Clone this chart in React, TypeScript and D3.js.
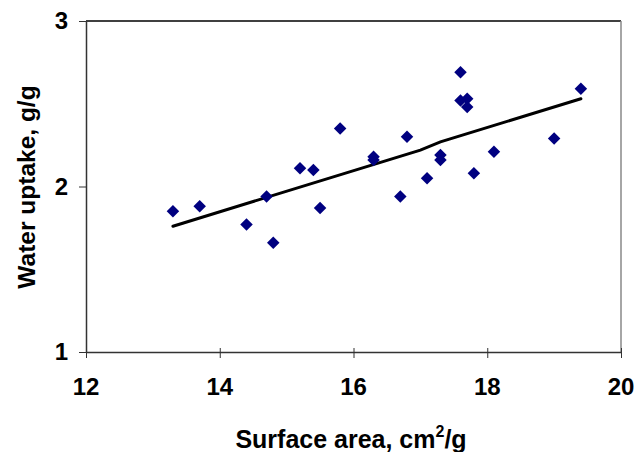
import { useEffect, useRef } from "react"
import * as d3 from "d3"

// scatter points
const surfaceArea = [13.3, 13.7, 14.4, 14.7, 14.8, 15.2, 15.4, 15.5, 15.8, 16.3, 16.3, 16.7, 16.8, 17.1, 17.3, 17.3, 17.6, 17.6, 17.7, 17.7, 17.8, 18.1, 19.0, 19.4]
const waterUptake = [1.85, 1.88, 1.77, 1.94, 1.66, 2.11, 2.10, 1.87, 2.35, 2.18, 2.16, 1.94, 2.30, 2.05, 2.19, 2.16, 2.69, 2.52, 2.53, 2.48, 2.08, 2.21, 2.29, 2.59]

// fitted line
const trendX = [13.3, 17.0, 17.3, 19.4]
const trendY = [1.76, 2.22, 2.27, 2.53]

const xTicks = [12, 14, 16, 18, 20]
const yTicks = [1, 2, 3]

const App = () => {
  const svgRef = useRef<SVGSVGElement>(null)

  useEffect(() => {
    const svg = d3.select(svgRef.current)
    svg.selectAll("*").remove()

    const left = 86, right = 621, top = 21, bottom = 352
    const font = "Liberation Sans, Arial, sans-serif"

    const x = d3.scaleLinear().domain([12, 20]).range([left, right])
    const y = d3.scaleLinear().domain([1, 3]).range([bottom, top])

    // frame top and right
    svg.append("line")
      .attr("x1", left).attr("x2", right).attr("y1", top).attr("y2", top)
      .attr("stroke", "#000").attr("stroke-width", 1.5)
    svg.append("line")
      .attr("x1", right).attr("x2", right).attr("y1", top).attr("y2", bottom)
      .attr("stroke", "#888").attr("stroke-width", 1.5)

    // x axis (labels drawn separately)
    const gx = svg.append("g")
      .attr("transform", `translate(0, ${bottom})`)
      .call(d3.axisBottom(x).tickValues(xTicks).tickSize(6).tickSizeOuter(0).tickFormat(() => ""))
    gx.select(".domain").attr("stroke", "#333").attr("stroke-width", 1.5)
    gx.selectAll(".tick line").attr("stroke", "#333").attr("y1", -4)

    svg.append("g")
      .attr("font-family", font).attr("font-size", 24).attr("font-weight", "bold")
      .attr("text-anchor", "middle")
      .selectAll("text")
      .data(xTicks)
      .join("text")
      .attr("x", d => x(d))
      .attr("y", bottom + 43)
      .text(d => d)

    // y axis
    const gy = svg.append("g")
      .attr("transform", `translate(${left}, 0)`)
      .call(d3.axisLeft(y).tickValues(yTicks).tickSize(7).tickSizeOuter(0).tickFormat(() => ""))
    gy.select(".domain").attr("stroke", "#333").attr("stroke-width", 1.5)
    gy.selectAll(".tick line").attr("stroke", "#333")

    svg.append("g")
      .attr("font-family", font).attr("font-size", 24).attr("font-weight", "bold")
      .attr("text-anchor", "end")
      .selectAll("text")
      .data(yTicks)
      .join("text")
      .attr("x", left - 18)
      .attr("y", d => y(d) + 8)
      .text(d => d)

    // trend line
    const line = d3.line<number>()
      .x((d, i) => x(trendX[i]))
      .y(d => y(d))
    svg.append("path")
      .datum(trendY)
      .attr("fill", "none")
      .attr("stroke", "#000")
      .attr("stroke-width", 3)
      .attr("stroke-linecap", "round")
      .attr("d", line)

    // diamonds
    const diamond = d3.symbol().type(d3.symbolSquare).size(78)
    svg.append("g")
      .selectAll("path")
      .data(surfaceArea)
      .join("path")
      .attr("d", diamond)
      .attr("transform", (d, i) => `translate(${x(d)}, ${y(waterUptake[i])}) rotate(45)`)
      .attr("fill", "#000080")

    // titles
    svg.append("text")
      .attr("x", 351).attr("y", 448)
      .attr("text-anchor", "middle")
      .attr("font-family", font).attr("font-size", 25).attr("font-weight", "bold")
      .html("Surface area, cm<tspan dy='-11' font-size='16'>2</tspan><tspan dy='11'>/g</tspan>")

    svg.append("text")
      .attr("transform", `translate(35, 187) rotate(-90)`)
      .attr("text-anchor", "middle")
      .attr("font-family", font).attr("font-size", 24.5).attr("font-weight", "bold")
      .text("Water uptake, g/g")
  }, [])

  return <svg ref={svgRef} width={635} height={452} style={{ position: "absolute", left: 0, top: 0, background: "#fff" }} />
}

export default App
